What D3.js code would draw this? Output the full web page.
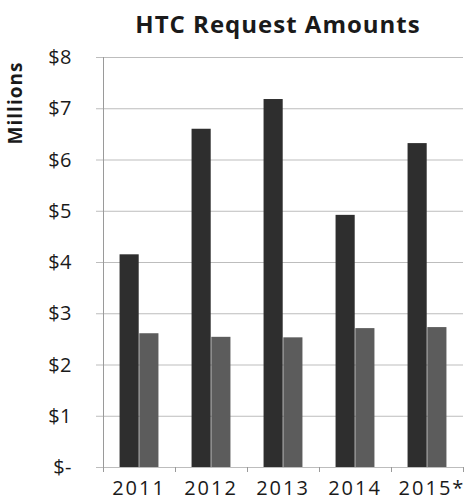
<!DOCTYPE html>
<html>
<head>
<meta charset="utf-8">
<script src="https://cdn.jsdelivr.net/npm/d3@7"></script>
<style>
  html, body { margin: 0; padding: 0; background: #fff; }
  svg { display: block; }
  text { font-family: "Open Sans", "DejaVu Sans", sans-serif; fill: #1a1a1a; }
</style>
</head>
<body>
<svg id="chart" width="467" height="501"></svg>
<script>
// Chart data
const years = ["2011", "2012", "2013", "2014", "2015*"];
const requested = [4.15, 6.6, 7.18, 4.92, 6.32];
const awarded = [2.61, 2.54, 2.53, 2.71, 2.73];
const yTicks = [0, 1, 2, 3, 4, 5, 6, 7, 8];
const yTickLabels = ["$-", "$1", "$2", "$3", "$4", "$5", "$6", "$7", "$8"];
const seriesKeys = ["requested", "awarded"];
const seriesColors = ["#2e2e2e", "#5c5c5c"];

const svg = d3.select("#chart");
const plot = { left: 103, right: 463, top: 57, bottom: 467 };

const x = d3.scaleBand().domain(years).range([plot.left, plot.right]).paddingInner(0.46).paddingOuter(0.23);
const xs = d3.scaleBand().domain(seriesKeys).range([0, x.bandwidth()]).paddingInner(0.03);
const y = d3.scaleLinear().domain([0, 8]).range([plot.bottom, plot.top]);

// Horizontal gridlines with short outward ticks
svg.append("g").selectAll("line").data(yTicks).join("line")
  .attr("x1", plot.left - 7).attr("x2", plot.right)
  .attr("y1", d => y(d) + 0.5).attr("y2", d => y(d) + 0.5)
  .attr("stroke", "#bdbdbd").attr("stroke-width", 1);

// Y axis line
svg.append("line")
  .attr("x1", plot.left + 0.5).attr("x2", plot.left + 0.5)
  .attr("y1", plot.top).attr("y2", plot.bottom + 5)
  .attr("stroke", "#9a9a9a").attr("stroke-width", 1);

// X axis category ticks
const xBounds = years.map((d, i) => plot.left + i * x.step()).concat([plot.right]);
svg.append("g").selectAll("line").data(xBounds).join("line")
  .attr("x1", d => d + 0.5).attr("x2", d => d + 0.5)
  .attr("y1", plot.bottom).attr("y2", plot.bottom + 5)
  .attr("stroke", "#9a9a9a");

// Bars
const data = years.map((yr, i) => ({ year: yr, requested: requested[i], awarded: awarded[i] }));
const groups = svg.append("g").selectAll("g").data(data).join("g")
  .attr("transform", d => `translate(${x(d.year)},0)`);
groups.selectAll("rect")
  .data(d => seriesKeys.map((k, j) => ({ key: k, value: d[k], color: seriesColors[j] })))
  .join("rect")
  .attr("x", d => xs(d.key))
  .attr("width", xs.bandwidth())
  .attr("y", d => y(d.value))
  .attr("height", d => y(0) - y(d.value))
  .attr("fill", d => d.color);

// Y tick labels
svg.append("g").selectAll("text").data(yTicks).join("text")
  .attr("x", 72).attr("y", d => y(d))
  .attr("dy", "0.35em")
  .attr("text-anchor", "end")
  .attr("font-size", 20)
  .attr("letter-spacing", 0.5)
  .text((d, i) => yTickLabels[i]);

// X labels
svg.append("g").selectAll("text").data(years).join("text")
  .attr("x", d => x(d) + x.bandwidth() / 2 + (d.endsWith("*") ? 5 : 0))
  .attr("y", 495)
  .attr("text-anchor", "middle")
  .attr("font-size", 20)
  .attr("letter-spacing", 2)
  .text(d => d);

// Axis title
svg.append("text")
  .attr("transform", "translate(22,103) rotate(-90)")
  .attr("text-anchor", "middle")
  .attr("font-size", 19)
  .attr("font-weight", "bold")
  .attr("letter-spacing", 1)
  .text("Millions");

// Chart title
svg.append("text")
  .attr("x", 278).attr("y", 33)
  .attr("text-anchor", "middle")
  .attr("font-size", 24)
  .attr("font-weight", "bold")
  .attr("letter-spacing", 1)
  .text("HTC Request Amounts");
</script>
</body>
</html>
